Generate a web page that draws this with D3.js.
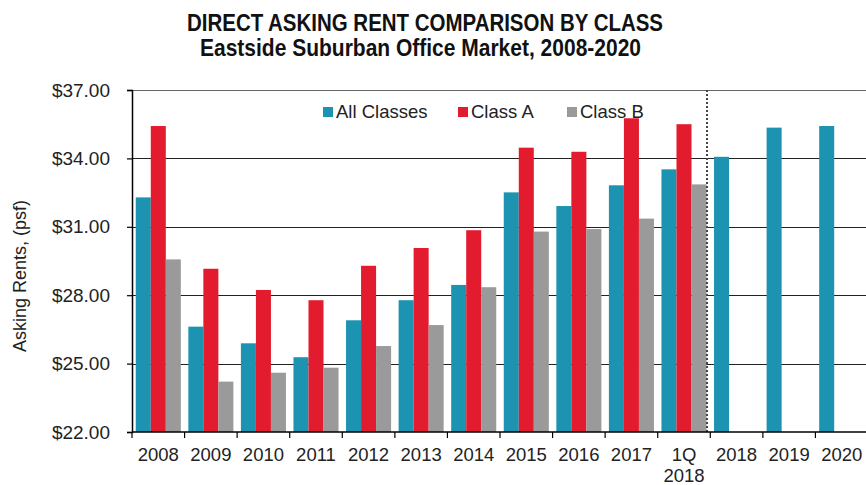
<!DOCTYPE html>
<html>
<head>
<meta charset="utf-8">
<script src="https://cdn.jsdelivr.net/npm/d3@7"></script>
<style>
  body { margin: 0; background: #fff; }
  text { font-family: "Liberation Sans", Arial, sans-serif; }
</style>
</head>
<body>
<div id="chart"></div>
<script>
var categories = ["2008", "2009", "2010", "2011", "2012", "2013", "2014", "2015", "2016", "2017", "1Q 2018", "2018", "2019", "2020"];
var seriesNames = ["All Classes", "Class A", "Class B"];
var allClasses = [32.29, 26.62, 25.89, 25.28, 26.90, 27.78, 28.45, 32.51, 31.91, 32.82, 33.52, 34.07, 35.35, 35.42];
var classA = [35.42, 29.16, 28.23, 27.78, 29.29, 30.07, 30.85, 34.47, 34.29, 35.76, 35.50, null, null, null];
var classB = [29.57, 24.21, 24.60, 24.82, 25.77, 26.69, 28.35, 30.79, 30.90, 31.36, 32.86, null, null, null];
var yTicks = [22, 25, 28, 31, 34, 37];
var colors = ["#1b93b1", "#e31b2e", "#9a9a9a"];

var width = 866, height = 485;
var margin = {top: 90, right: -2, bottom: 53, left: 132};
var plotW = width - margin.left - margin.right,
    plotH = height - margin.top - margin.bottom;

var svg = d3.select("#chart")
  .append("svg")
    .attr("width", width)
    .attr("height", height);

var g = svg.append("g")
    .attr("transform", "translate(" + margin.left + "," + margin.top + ")");

var x0 = d3.scaleBand()
    .domain(categories)
    .range([0, plotW])
    .padding(0);

var x1 = d3.scaleBand()
    .domain(seriesNames)
    .range([0, x0.bandwidth()])
    .paddingInner(0)
    .paddingOuter(0.25);

var y = d3.scaleLinear()
    .domain([22, 37])
    .range([plotH, 0]);

var rows = categories.map(function(c, i) {
  return {cat: c, values: [allClasses[i], classA[i], classB[i]]};
});

// gridlines
g.append("g")
  .selectAll("line")
  .data(yTicks.filter(function(d) { return d > 22; }))
  .enter().append("line")
    .attr("x1", 0)
    .attr("x2", plotW)
    .attr("y1", function(d) { return Math.round(y(d)) + 0.5; })
    .attr("y2", function(d) { return Math.round(y(d)) + 0.5; })
    .attr("stroke", function(d) { return d === 37 ? "#666" : "#222"; })
    .attr("stroke-width", 1.2);

// legend (drawn under the bars, like the original)
var legendX = [323, 458, 567];
var legend = svg.append("g");
seriesNames.forEach(function(name, i) {
  legend.append("rect")
      .attr("x", legendX[i]).attr("y", 107)
      .attr("width", 10).attr("height", 10)
      .attr("fill", colors[i]);
  legend.append("text")
      .attr("x", legendX[i] + 13).attr("y", 117.5)
      .attr("font-size", "18.5px")
      .attr("fill", "#222")
      .text(name);
});

// bars
g.append("g")
  .selectAll("g")
  .data(rows)
  .enter().append("g")
    .attr("transform", function(d) { return "translate(" + x0(d.cat) + ",0)"; })
  .selectAll("rect")
  .data(function(d) {
    return d.values.map(function(v, j) { return {key: seriesNames[j], value: v, j: j}; })
      .filter(function(e) { return e.value != null; });
  })
  .enter().append("rect")
    .attr("x", function(d) { return x1(d.key); })
    .attr("width", x1.bandwidth())
    .attr("y", function(d) { return y(d.value); })
    .attr("height", function(d) { return plotH - y(d.value); })
    .attr("fill", function(d) { return colors[d.j]; });

// dotted divider after 1Q 2018
var divX = x0("1Q 2018") + x1("Class B") + x1.bandwidth() + 0.5;
g.append("line")
    .attr("x1", divX).attr("x2", divX)
    .attr("y1", 0).attr("y2", plotH)
    .attr("stroke", "#444")
    .attr("stroke-width", 2)
    .attr("stroke-dasharray", "2,2");

// y axis
var yAxis = g.append("g")
    .call(d3.axisLeft(y).tickValues(yTicks).tickFormat(d3.format("$.2f")).tickSize(5).tickPadding(17));
yAxis.select(".domain").attr("stroke", "#000").attr("stroke-width", 1.5);
yAxis.selectAll(".tick line").attr("stroke", "#000").attr("stroke-width", 1.2);
yAxis.selectAll(".tick text")
    .attr("font-size", "19px")
    .attr("fill", "#222");

// x axis
var xAxis = g.append("g")
    .attr("transform", "translate(0," + plotH + ")");
xAxis.append("line")
    .attr("x1", 0).attr("x2", plotW)
    .attr("stroke", "#000").attr("stroke-width", 1.5);
xAxis.selectAll(".bt")
  .data(categories)
  .enter().append("line")
    .attr("class", "bt")
    .attr("x1", function(d) { return x0(d); })
    .attr("x2", function(d) { return x0(d); })
    .attr("y1", 0).attr("y2", 6)
    .attr("stroke", "#000").attr("stroke-width", 1.2);
var xl = xAxis.selectAll(".xl")
  .data(categories)
  .enter().append("text")
    .attr("class", "xl")
    .attr("text-anchor", "middle")
    .attr("font-size", "18.5px")
    .attr("fill", "#222")
    .attr("x", function(d) { return x0(d) + x0.bandwidth() / 2; })
    .attr("y", 29);
xl.selectAll("tspan")
  .data(function(d) { return d.split(" "); })
  .enter().append("tspan")
    .attr("x", function() { return d3.select(this.parentNode).attr("x"); })
    .attr("dy", function(d, i) { return i === 0 ? 0 : 21; })
    .text(function(d) { return d; });

// y axis title
svg.append("text")
    .attr("transform", "translate(26," + 276 + ") rotate(-90)")
    .attr("text-anchor", "middle")
    .attr("font-size", "18px")
    .attr("fill", "#222")
    .text("Asking Rents, (psf)");

// titles
svg.append("text")
    .attr("x", 425).attr("y", 31)
    .attr("text-anchor", "middle")
    .attr("font-size", "23px")
    .attr("font-weight", "bold")
    .attr("fill", "#111")
    .attr("textLength", 476)
    .attr("lengthAdjust", "spacingAndGlyphs")
    .text("DIRECT ASKING  RENT COMPARISON BY CLASS");
svg.append("text")
    .attr("x", 420.5).attr("y", 56)
    .attr("text-anchor", "middle")
    .attr("font-size", "24px")
    .attr("font-weight", "bold")
    .attr("fill", "#111")
    .attr("textLength", 441)
    .attr("lengthAdjust", "spacingAndGlyphs")
    .text("Eastside Suburban Office Market, 2008-2020");
</script>
</body>
</html>
